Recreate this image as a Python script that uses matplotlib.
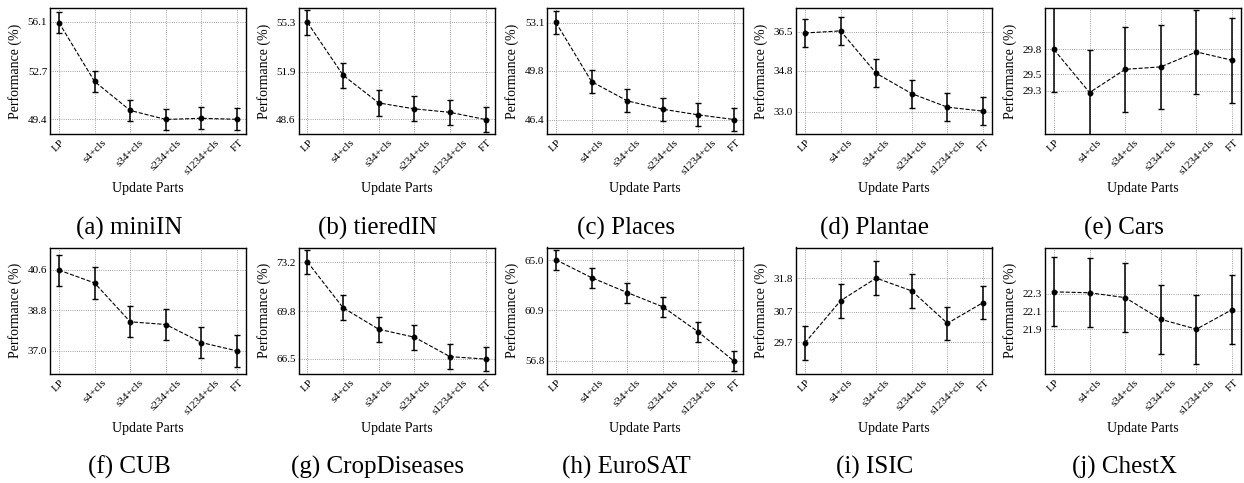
import numpy as np
import matplotlib
matplotlib.use('Agg')
import matplotlib.pyplot as plt

plt.rcParams['font.family'] = ['Liberation Serif', 'DejaVu Serif']

parts = ['LP', 's4+cls', 's34+cls', 's234+cls', 's1234+cls', 'FT']
names = ['miniIN', 'tieredIN', 'Places', 'Plantae', 'Cars',
         'CUB', 'CropDiseases', 'EuroSAT', 'ISIC', 'ChestX']

# mean accuracy per update setting
mini_in = [56.06, 52.01, 50.02, 49.40, 49.48, 49.41]
tiered_in = [55.30, 51.65, 49.73, 49.32, 49.08, 48.58]
places = [53.12, 49.04, 47.71, 47.13, 46.74, 46.42]
plantae = [36.44, 36.53, 34.68, 33.79, 33.20, 33.03]
cars = [29.80, 29.28, 29.56, 29.59, 29.77, 29.67]
cub = [40.58, 40.01, 38.29, 38.17, 37.37, 37.00]
crop = [73.21, 70.03, 68.54, 67.99, 66.64, 66.47]
eurosat = [65.02, 63.57, 62.36, 61.20, 59.15, 56.78]
isic = [29.68, 31.06, 31.80, 31.38, 30.32, 31.00]
chestx = [22.32, 22.31, 22.255, 22.01, 21.90, 22.12]

# 95% confidence interval
ci = [0.75, 0.87, 0.80, 0.61, 0.51, 0.69, 0.86, 0.81, 0.55, 0.39]
# y range padding around min / max
ypad = [1, 1, 1, 1, 0.5, 1, 1, 1, 1, 0.5]

results = [mini_in, tiered_in, places, plantae, cars,
           cub, crop, eurosat, isic, chestx]

W, H = 1244, 483
fig = plt.figure(figsize=(W / 100, H / 100), dpi=100)

lefts = [50, 298.5, 547, 796, 1045]
tops = [8, 247.5]
aw, ah = 196, 126

x = np.arange(len(parts))
for i, (name, acc) in enumerate(zip(names, results)):
	r, c = divmod(i, 5)
	ax = fig.add_axes([lefts[c] / W, 1 - (tops[r] + ah) / H, aw / W, ah / H])
	acc = np.array(acc)
	ax.errorbar(x, acc, yerr=ci[i], fmt='o--', color='black', ms=3.2,
	            lw=0.8, elinewidth=1.1, capsize=2.5, capthick=1.0, zorder=3)
	lo, hi = acc.min(), acc.max()
	ax.set_ylim(lo - ypad[i], hi + ypad[i])
	ticks = np.round([lo, (lo + hi) / 2, hi], 1)
	ax.set_yticks(ticks)
	ax.set_yticklabels(['%.1f' % t for t in ticks])
	ax.set_xticks(x)
	ax.set_xticklabels(parts, rotation=45)
	ax.tick_params(axis='both', length=0, labelsize=8)
	ax.tick_params(axis='y', pad=2)
	ax.tick_params(axis='x', pad=3)
	ax.grid(True, linestyle=':', color='gray', linewidth=0.6)
	ax.set_axisbelow(True)
	for s in ax.spines.values():
		s.set_linewidth(1.0)
	ax.set_xlabel('Update Parts', fontsize=10)
	ax.set_ylabel('Performance (%)', fontsize=10)

	cx = (lefts[c] + aw / 2 - 19) / W
	cy = 1 - (228 + r * 239) / H
	fig.text(cx, cy, '(%s) %s' % ('abcdefghij'[i], name), fontsize=18,
	         ha='center', va='center')

plt.savefig('out.png', dpi=100)
